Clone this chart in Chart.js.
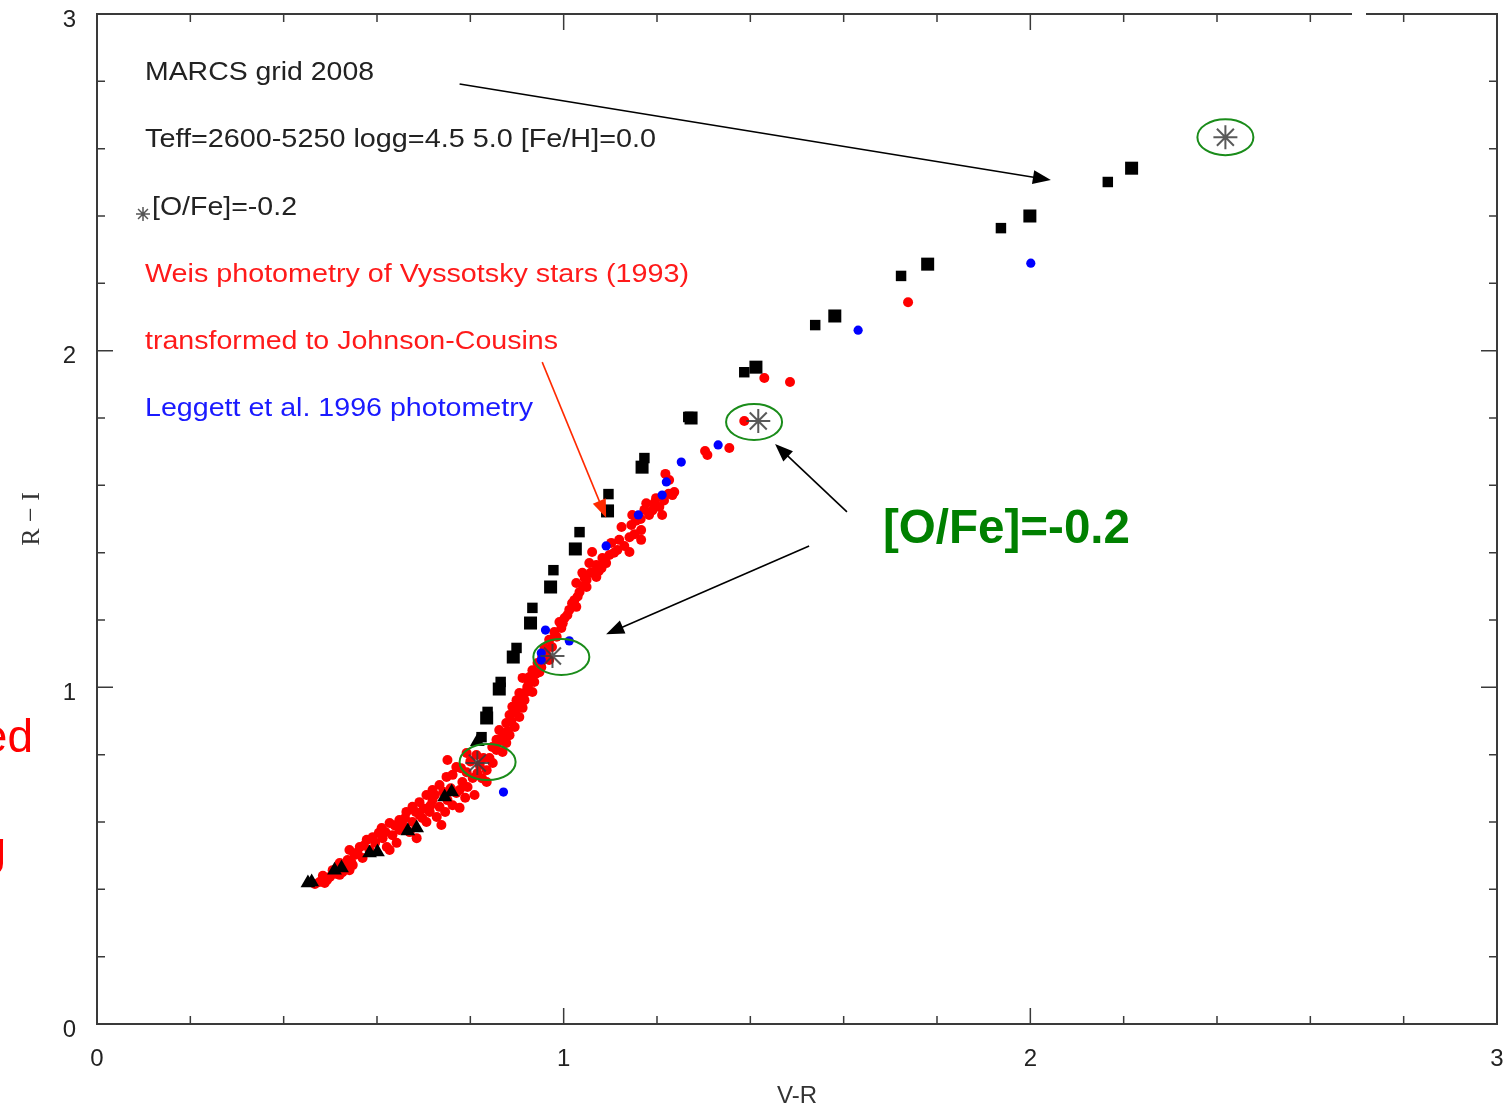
<!DOCTYPE html>
<html>
<head>
<meta charset="utf-8">
<style>
  html, body { margin: 0; padding: 0; background: #fff; }
  #wrap { width: 1511px; height: 1111px; }
</style>
<script src="https://cdn.jsdelivr.net/npm/chart.js"></script>
</head>
<body>
<div id="wrap"><canvas id="grafico" width="1511" height="1111"></canvas></div>
<script>
// eixos
const xTicks = [0, 1, 2, 3];
const yTicks = [0, 1, 2, 3];

// MARCS grid 2008 - quadrados grandes e pequenos (V-R, R-I)
const marcsGrandes = [
  [2.217, 2.542], [1.999, 2.400], [1.780, 2.257], [1.581, 2.103], [1.412, 1.951],
  [1.273, 1.800], [1.168, 1.654], [1.094, 1.524], [1.025, 1.411], [0.972, 1.298],
  [0.929, 1.191], [0.892, 1.090], [0.862, 0.995], [0.835, 0.909]
];
const marcsPequenos = [
  [2.166, 2.501], [1.937, 2.364], [1.723, 2.222], [1.539, 2.076], [1.387, 1.936],
  [1.267, 1.803], [1.173, 1.681], [1.096, 1.574], [1.034, 1.461], [0.978, 1.348],
  [0.933, 1.236], [0.899, 1.117], [0.865, 1.016], [0.837, 0.927], [0.824, 0.852]
];
// MARCS - triangulos (parte quente)
const marcsTriangulos = [
  [0.815, 0.838], [0.760, 0.689], [0.745, 0.674], [0.685, 0.582], [0.666, 0.573],
  [0.601, 0.511], [0.584, 0.508], [0.524, 0.463], [0.509, 0.457], [0.460, 0.422],
  [0.452, 0.419]
];
// [O/Fe]=-0.2
const ofeEstrelas = [
  [2.418, 2.634], [1.417, 1.791], [0.976, 1.093], [0.815, 0.775]
];
// Leggett et al. 1996
const leggett = [
  [2.001, 2.260], [1.631, 2.061], [1.331, 1.720], [1.252, 1.669], [1.220, 1.610],
  [1.211, 1.571], [1.160, 1.512], [1.091, 1.420], [0.961, 1.170], [1.012, 1.138],
  [0.952, 1.102], [0.952, 1.081], [0.871, 0.689]
];
// Weis photometry of Vyssotsky stars (1993)
const weis = [
  [1.738, 2.144], [1.430, 1.919], [1.485, 1.907], [1.387, 1.791], [1.355, 1.711],
  [1.303, 1.702], [1.308, 1.690],
  [0.477, 0.422], [0.488, 0.419], [0.484, 0.440], [0.499, 0.437], [0.505, 0.457],
  [0.520, 0.443], [0.526, 0.451], [0.520, 0.478], [0.537, 0.487], [0.548, 0.472],
  [0.552, 0.502], [0.569, 0.493], [0.541, 0.517], [0.563, 0.526], [0.584, 0.517],
  [0.578, 0.547], [0.591, 0.555], [0.612, 0.552], [0.621, 0.526], [0.610, 0.582],
  [0.627, 0.597], [0.633, 0.561], [0.642, 0.538], [0.648, 0.576], [0.670, 0.570],
  [0.648, 0.606], [0.663, 0.630], [0.676, 0.600], [0.676, 0.645], [0.691, 0.621],
  [0.691, 0.659], [0.706, 0.600], [0.706, 0.680], [0.713, 0.630], [0.719, 0.665],
  [0.728, 0.615], [0.719, 0.695], [0.734, 0.645], [0.734, 0.710], [0.751, 0.665],
  [0.749, 0.734], [0.770, 0.686], [0.777, 0.695], [0.770, 0.763], [0.783, 0.719],
  [0.751, 0.784], [0.792, 0.748], [0.794, 0.704], [0.805, 0.731], [0.792, 0.805],
  [0.813, 0.799], [0.467, 0.416], [0.541, 0.457], [0.627, 0.517], [0.685, 0.552],
  [0.738, 0.591], [0.777, 0.642], [0.809, 0.680], [0.835, 0.719],
  [0.493, 0.428], [0.512, 0.446], [0.530, 0.467], [0.545, 0.480], [0.558, 0.510],
  [0.572, 0.530], [0.596, 0.538], [0.604, 0.568], [0.618, 0.570], [0.638, 0.590],
  [0.655, 0.592], [0.660, 0.612], [0.683, 0.630], [0.700, 0.640], [0.697, 0.612],
  [0.715, 0.650], [0.724, 0.680], [0.742, 0.690], [0.746, 0.630], [0.758, 0.700],
  [0.762, 0.740], [0.780, 0.760], [0.800, 0.780], [0.815, 0.745], [0.825, 0.730],
  [0.762, 0.650], [0.789, 0.672],
  [0.820, 0.769], [0.835, 0.754], [0.841, 0.790], [0.856, 0.814], [0.847, 0.823],
  [0.869, 0.808], [0.856, 0.844], [0.877, 0.835], [0.862, 0.873], [0.884, 0.858],
  [0.877, 0.894], [0.895, 0.882], [0.884, 0.918], [0.905, 0.912], [0.890, 0.942],
  [0.912, 0.939], [0.899, 0.962], [0.916, 0.962], [0.905, 0.983], [0.933, 0.986],
  [0.922, 1.001], [0.937, 1.016], [0.912, 1.028], [0.927, 1.031], [0.933, 1.051],
  [0.952, 1.060], [0.944, 1.072], [0.954, 1.090], [0.969, 1.081], [0.959, 1.117],
  [0.969, 1.141], [0.980, 1.164], [0.995, 1.176], [0.991, 1.194], [1.002, 1.206],
  [1.012, 1.230], [1.027, 1.239], [1.023, 1.259], [1.034, 1.283], [1.049, 1.319],
  [1.027, 1.310], [1.040, 1.340], [1.055, 1.369],
  [0.828, 0.790], [0.848, 0.775], [0.862, 0.840], [0.870, 0.855], [0.880, 0.870],
  [0.888, 0.900], [0.896, 0.925], [0.902, 0.945], [0.908, 0.960], [0.918, 0.985],
  [0.925, 1.010], [0.940, 1.040], [0.948, 1.045], [0.962, 1.100], [0.975, 1.120],
  [0.985, 1.150], [0.998, 1.190], [1.008, 1.215], [1.018, 1.250], [1.030, 1.270],
  [1.042, 1.300], [1.045, 1.325], [1.058, 1.340],
  [1.049, 1.298], [1.061, 1.342], [1.070, 1.328], [1.081, 1.354], [1.070, 1.363],
  [1.091, 1.369], [1.083, 1.384], [1.098, 1.393], [1.061, 1.402], [1.115, 1.408],
  [1.141, 1.402], [1.102, 1.429], [1.119, 1.438], [1.166, 1.438], [1.141, 1.446],
  [1.124, 1.476], [1.166, 1.467], [1.145, 1.482], [1.147, 1.512], [1.183, 1.512],
  [1.211, 1.512], [1.173, 1.527], [1.205, 1.536], [1.177, 1.547], [1.194, 1.547],
  [1.198, 1.562], [1.233, 1.571], [1.237, 1.580], [1.218, 1.634], [1.226, 1.616],
  [1.075, 1.345], [1.088, 1.375], [1.108, 1.400], [1.130, 1.420], [1.152, 1.455],
  [1.155, 1.495], [1.165, 1.500], [1.190, 1.525], [1.215, 1.555], [1.225, 1.575]
];

// anotacoes (coordenadas do grafico)
const setas = [
  { de: [0.777, 2.792], para: [2.044, 2.507], cor: '#000' },
  { de: [0.954, 1.966], para: [1.091, 1.504], cor: '#ff2a00' },
  { de: [1.607, 1.521], para: [1.453, 1.723], cor: '#000' },
  { de: [1.526, 1.420], para: [1.091, 1.158], cor: '#000' }
];
const elipses = [
  [2.418, 2.634], [1.408, 1.788], [0.995, 1.090], [0.837, 0.778]
];

const pts = arr => arr.map(p => ({ x: p[0], y: p[1] }));

function texto(ctx, str, x, yc, largura, fonte, cor) {
  ctx.save();
  ctx.font = fonte;
  ctx.fillStyle = cor;
  ctx.textBaseline = 'middle';
  ctx.textAlign = 'left';
  const w = ctx.measureText(str).width;
  ctx.translate(x, yc);
  ctx.scale(largura / w, 1);
  ctx.fillText(str, 0, 0);
  ctx.restore();
}

function seta(ctx, x1, y1, x2, y2, cor) {
  const a = Math.atan2(y2 - y1, x2 - x1);
  const L = 18, W = 7;
  ctx.save();
  ctx.strokeStyle = cor;
  ctx.fillStyle = cor;
  ctx.lineWidth = 1.6;
  ctx.beginPath();
  ctx.moveTo(x1, y1);
  ctx.lineTo(x2 - L * 0.8 * Math.cos(a), y2 - L * 0.8 * Math.sin(a));
  ctx.stroke();
  ctx.beginPath();
  ctx.moveTo(x2, y2);
  ctx.lineTo(x2 - L * Math.cos(a) + W * Math.sin(a), y2 - L * Math.sin(a) - W * Math.cos(a));
  ctx.lineTo(x2 - L * Math.cos(a) - W * Math.sin(a), y2 - L * Math.sin(a) + W * Math.cos(a));
  ctx.closePath();
  ctx.fill();
  ctx.restore();
}

function asterisco(ctx, x, y, r, cor, lw) {
  ctx.save();
  ctx.strokeStyle = cor;
  ctx.lineWidth = lw;
  ctx.beginPath();
  for (let i = 0; i < 4; i++) {
    const a = i * Math.PI / 4;
    ctx.moveTo(x - r * Math.cos(a), y - r * Math.sin(a));
    ctx.lineTo(x + r * Math.cos(a), y + r * Math.sin(a));
  }
  ctx.stroke();
  ctx.restore();
}

// moldura com tracos para dentro
const moldura = {
  id: 'moldura',
  beforeDatasetsDraw(chart) {
    const ctx = chart.ctx;
    const { left, right, top, bottom } = chart.chartArea;
    const sx = chart.scales.x, sy = chart.scales.y;
    ctx.save();
    ctx.strokeStyle = '#3a3a3a';
    ctx.lineWidth = 2;
    ctx.strokeRect(left, top, right - left, bottom - top);
    ctx.lineWidth = 1.5;
    ctx.beginPath();
    for (let i = 0; i <= 15; i++) {
      const v = i / 5;
      const len = i % 5 === 0 ? 16 : 8;
      const px = sx.getPixelForValue(v);
      const py = sy.getPixelForValue(v);
      ctx.moveTo(px, bottom); ctx.lineTo(px, bottom - len);
      ctx.moveTo(px, top); ctx.lineTo(px, top + len);
      ctx.moveTo(left, py); ctx.lineTo(left + len, py);
      ctx.moveTo(right, py); ctx.lineTo(right - len, py);
    }
    ctx.stroke();
    // pequena falha na linha de cima
    ctx.fillStyle = '#fff';
    ctx.fillRect(1352, top - 3, 14, 6);
    ctx.restore();
  }
};

const anotacoes = {
  id: 'anotacoes',
  afterDraw(chart) {
    const ctx = chart.ctx;
    const sx = chart.scales.x, sy = chart.scales.y;
    const sans = '"Liberation Sans", Arial, sans-serif';

    texto(ctx, 'MARCS grid 2008', 145, 73, 229, '25px ' + sans, '#222');
    texto(ctx, 'Teff=2600-5250 logg=4.5 5.0 [Fe/H]=0.0', 145, 140, 511, '25px ' + sans, '#222');
    asterisco(ctx, 143, 214, 7, '#555', 1.5);
    texto(ctx, '[O/Fe]=-0.2', 152, 208, 145, '25px ' + sans, '#222');
    texto(ctx, 'Weis photometry of Vyssotsky stars (1993)', 145, 275, 544, '25px ' + sans, '#ff1a1a');
    texto(ctx, 'transformed to Johnson-Cousins', 145, 342, 413, '25px ' + sans, '#ff1a1a');
    texto(ctx, 'Leggett et al. 1996 photometry', 145, 409, 388, '25px ' + sans, '#1a1aff');
    texto(ctx, '[O/Fe]=-0.2', 883, 530, 247, 'bold 48px ' + sans, '#008000');

    // restos de texto cortados na margem esquerda
    ctx.save();
    ctx.font = '46px ' + sans;
    ctx.fillStyle = '#ff0000';
    ctx.textAlign = 'right';
    ctx.textBaseline = 'alphabetic';
    ctx.fillText('ed', 33, 752);
    ctx.fillText('g', 6, 864);
    ctx.restore();

    setas.forEach(s => seta(ctx,
      sx.getPixelForValue(s.de[0]), sy.getPixelForValue(s.de[1]),
      sx.getPixelForValue(s.para[0]), sy.getPixelForValue(s.para[1]), s.cor));

    ctx.save();
    ctx.strokeStyle = '#1a8c1a';
    ctx.lineWidth = 2;
    elipses.forEach(e => {
      ctx.beginPath();
      ctx.ellipse(sx.getPixelForValue(e[0]), sy.getPixelForValue(e[1]), 28, 18, 0, 0, Math.PI * 2);
      ctx.stroke();
    });
    ctx.restore();
  }
};

const semPadding = s => {
  s.paddingTop = 0;
  s.paddingBottom = 0;
  s.paddingLeft = 0;
  s.paddingRight = 0;
};

const ctxGrafico = document.getElementById('grafico').getContext('2d');

const grafico = new Chart(ctxGrafico, {
  type: 'scatter',
  data: {
    datasets: [
      {
        label: '[O/Fe]=-0.2',
        data: pts(ofeEstrelas),
        pointStyle: 'star',
        pointRadius: 12,
        borderColor: 'rgba(60, 60, 60, 0.85)',
        backgroundColor: 'rgba(60, 60, 60, 0.85)',
        borderWidth: 2
      },
      {
        label: 'MARCS triangulos',
        data: pts(marcsTriangulos),
        pointStyle: 'triangle',
        pointRadius: 8.5,
        backgroundColor: '#000',
        borderColor: '#000',
        borderWidth: 0
      },
      {
        label: 'MARCS grandes',
        data: pts(marcsGrandes),
        pointStyle: 'rect',
        pointRadius: 9.2,
        backgroundColor: '#000',
        borderColor: '#000',
        borderWidth: 0
      },
      {
        label: 'MARCS pequenos',
        data: pts(marcsPequenos),
        pointStyle: 'rect',
        pointRadius: 7.4,
        backgroundColor: '#000',
        borderColor: '#000',
        borderWidth: 0
      },
      {
        label: 'Leggett et al. 1996',
        data: pts(leggett),
        pointRadius: 4.6,
        backgroundColor: '#0000ff',
        borderWidth: 0
      },
      {
        label: 'Weis (1993)',
        data: pts(weis),
        pointRadius: 5,
        backgroundColor: '#ff0000',
        borderWidth: 0
      }
    ]
  },
  options: {
    responsive: false,
    animation: false,
    events: [],
    layout: { padding: { left: 0, top: 14, right: 12, bottom: 0 } },
    plugins: {
      legend: { display: false },
      tooltip: { enabled: false }
    },
    scales: {
      x: {
        type: 'linear',
        position: 'bottom',
        min: 0,
        max: 3,
        afterFit: s => { s.height = 87; semPadding(s); },
        afterBuildTicks: s => { s.ticks = xTicks.map(v => ({ value: v })); },
        grid: { display: false, drawTicks: false },
        border: { display: false },
        ticks: {
          color: '#222',
          padding: 21,
          maxRotation: 0,
          font: { family: '"Liberation Sans", Arial, sans-serif', size: 24 }
        },
        title: {
          display: true,
          text: 'V-R',
          color: '#333',
          padding: { top: 0, bottom: 0 },
          font: { family: '"Liberation Sans", Arial, sans-serif', size: 24 }
        }
      },
      y: {
        type: 'linear',
        position: 'left',
        min: 0,
        max: 3,
        afterFit: s => { s.width = 97; semPadding(s); },
        afterBuildTicks: s => { s.ticks = yTicks.map(v => ({ value: v })); },
        grid: { display: false, drawTicks: false },
        border: { display: false },
        ticks: {
          color: '#222',
          padding: 21,
          labelOffset: 6,
          font: { family: '"Liberation Sans", Arial, sans-serif', size: 24 }
        },
        title: {
          display: true,
          text: 'R − I',
          color: '#333',
          padding: { top: 17, bottom: 0 },
          font: { family: '"Liberation Serif", "Times New Roman", serif', size: 26 }
        }
      }
    }
  },
  plugins: [moldura, anotacoes]
});
</script>
</body>
</html>
